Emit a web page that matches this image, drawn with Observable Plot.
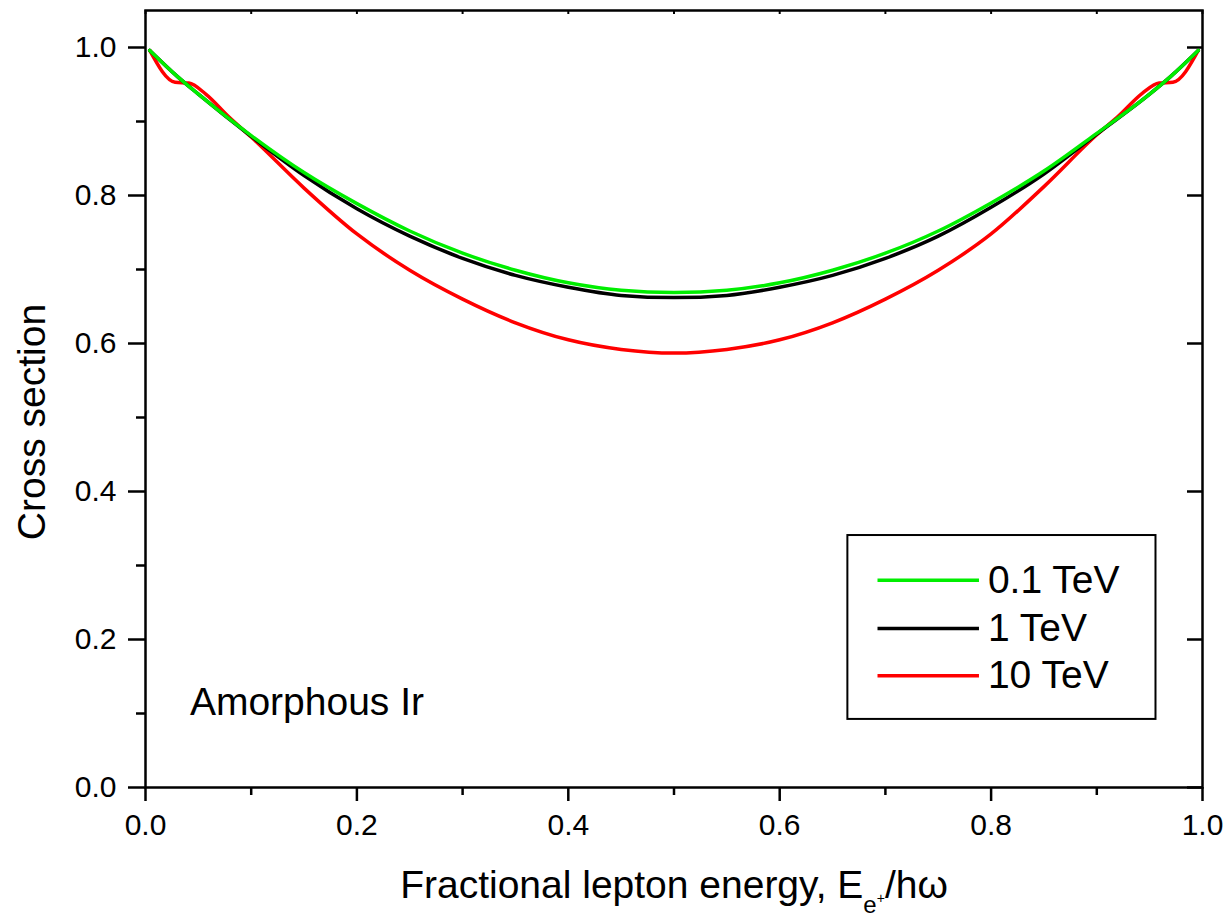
<!DOCTYPE html>
<html>
<head>
<meta charset="utf-8">
<script src="https://cdn.jsdelivr.net/npm/d3@7"></script>
<script src="https://cdn.jsdelivr.net/npm/@observablehq/plot@0.6"></script>
<style>
  html, body { margin: 0; padding: 0; background: #fff; }
  #chart svg { display: block; }
</style>
</head>
<body>
<div id="chart"></div>
<script>
// ---- data ----
const xSmooth = [0.004, 0.03, 0.05, 0.1, 0.15, 0.2, 0.25, 0.3, 0.35, 0.4, 0.45, 0.5,
                 0.55, 0.6, 0.65, 0.7, 0.75, 0.8, 0.85, 0.9, 0.95, 0.97, 0.996];
const y01TeV = [0.996, 0.961, 0.937, 0.881, 0.831, 0.789, 0.752, 0.722, 0.699, 0.682, 0.672, 0.669,
                0.672, 0.682, 0.699, 0.722, 0.752, 0.790, 0.833, 0.884, 0.937, 0.961, 0.996];
const y1TeV  = [0.996, 0.961, 0.937, 0.880, 0.827, 0.782, 0.745, 0.715, 0.692, 0.676, 0.665, 0.662,
                0.665, 0.676, 0.692, 0.715, 0.745, 0.784, 0.829, 0.883, 0.937, 0.961, 0.996];
const xRed   = [0.004, 0.028, 0.041, 0.057, 0.079, 0.1, 0.15, 0.2, 0.25, 0.3, 0.35, 0.4, 0.45, 0.5,
                0.55, 0.6, 0.65, 0.7, 0.75, 0.8, 0.85, 0.9, 0.921, 0.943, 0.959, 0.972, 0.996];
const y10TeV = [0.996, 0.953, 0.952, 0.937, 0.906, 0.879, 0.810, 0.748, 0.699, 0.660, 0.628, 0.605, 0.592, 0.587,
                0.592, 0.605, 0.628, 0.660, 0.699, 0.748, 0.812, 0.882, 0.908, 0.938, 0.952, 0.953, 0.996];

const seriesNames  = ["0.1 TeV", "1 TeV", "10 TeV"];
const seriesColors = ["#00ee00", "#000000", "#ff0000"];

const xMajorTicks = [0, 0.2, 0.4, 0.6, 0.8, 1.0];
const xMinorTicks = [0.1, 0.3, 0.5, 0.7, 0.9];
const yMajorTicks = [0, 0.2, 0.4, 0.6, 0.8, 1.0];
const yMinorTicks = [0.1, 0.3, 0.5, 0.7, 0.9];

const xTitle = "Fractional lepton energy, E";
const xTitleTail = ["e", "+", "/hω"];
const yTitle = "Cross section";
const annotation = "Amorphous Ir";

// ---- layout ----
const W = 1230, H = 920;
const mL = 145, mR = 28, mT = 10, mB = 133;
const frameW = W - mL - mR, frameH = H - mT - mB;
const FONT = "'Liberation Sans', Arial, Helvetica, sans-serif";
const BIG = 39;
const legendBox = {x1: 0.6645, x2: 0.956, y1: 0.092, y2: 0.3405};
const legendRows = [0.280, 0.215, 0.151];
const legendLine = {x1: 0.693, x2: 0.789, text: 0.797};

const toRows = (xs, ys) => xs.map((x, i) => ({x, y: ys[i]}));
const dGreen = toRows(xSmooth, y01TeV);
const dBlack = toRows(xSmooth, y1TeV);
const dRed   = toRows(xRed, y10TeV);
const legend = seriesNames.map((name, i) => ({name, color: seriesColors[i], y: legendRows[i]}));

const chart = Plot.plot({
  width: W, height: H,
  marginLeft: mL, marginRight: mR, marginTop: mT, marginBottom: mB,
  style: {fontFamily: FONT, background: "#fff", color: "#000"},
  x: {domain: [0, 1]},
  y: {domain: [0, 1.05]},
  marks: [
    // axes (outward ticks on left/bottom)
    Plot.axisY(yMajorTicks, {tickSize: 17, tickPadding: 12, fontSize: 30, strokeWidth: 2.5,
                             tickFormat: d3.format(".1f"), label: null}),
    Plot.axisY(yMinorTicks, {tickSize: 9, strokeWidth: 2.5, fill: "none", label: null}),
    Plot.axisX(xMajorTicks, {tickSize: 14, tickPadding: 12, fontSize: 30, strokeWidth: 2.5,
                             tickFormat: d3.format(".1f"), label: null}),
    Plot.axisX(xMinorTicks, {tickSize: 8, strokeWidth: 2.5, fill: "none", label: null}),
    // inward ticks on top/right
    Plot.tickY(yMajorTicks, {y: d => d, insetLeft: frameW - 15, strokeWidth: 2.5}),
    Plot.tickX(xMajorTicks.concat(xMinorTicks), {x: d => d, insetBottom: frameH - 4, strokeWidth: 2}),
    // curves
    Plot.line(dRed,   {x: "x", y: "y", stroke: seriesColors[2], strokeWidth: 3.5, curve: "monotone-x"}),
    Plot.line(dBlack, {x: "x", y: "y", stroke: seriesColors[1], strokeWidth: 3.5, curve: "monotone-x"}),
    Plot.line(dGreen, {x: "x", y: "y", stroke: seriesColors[0], strokeWidth: 3.5, curve: "monotone-x"}),
    // frame
    Plot.frame({stroke: "#000", strokeWidth: 2.5}),
    // legend
    Plot.rect([legendBox], {x1: "x1", x2: "x2", y1: "y1", y2: "y2", fill: "#fff", stroke: "#000", strokeWidth: 2}),
    Plot.ruleY(legend, {y: "y", x1: legendLine.x1, x2: legendLine.x2, stroke: "color", strokeWidth: 3.5}),
    Plot.text(legend, {x: legendLine.text, y: "y", text: "name", textAnchor: "start",
                       lineAnchor: "middle", fontSize: BIG, fill: "#000"}),
    // annotation
    Plot.text([annotation], {x: 0.042, y: 0.115, text: d => d, textAnchor: "start",
                             lineAnchor: "middle", fontSize: BIG, fill: "#000"}),
    // axis titles
    Plot.text([yTitle], {frameAnchor: "left", dx: -113, dy: 23, rotate: -90, text: d => d,
                         textAnchor: "middle", lineAnchor: "middle", fontSize: BIG, fill: "#000"}),
    Plot.text([xTitle], {frameAnchor: "bottom", dy: 98, text: d => d, textAnchor: "middle",
                         lineAnchor: "middle", fontSize: BIG, fill: "#000"})
  ]
});

// subscript / superscript on the x title
const ns = "http://www.w3.org/2000/svg";
const t = Array.from(chart.querySelectorAll("text")).find(el => el.textContent === xTitle);
if (t) {
  t.textContent = "";
  const parts = [
    {s: xTitle},
    {s: xTitleTail[0], dy: 15, size: 24},
    {s: xTitleTail[1], dy: -10, size: 14},
    {s: xTitleTail[2], dy: -5}
  ];
  for (const p of parts) {
    const ts = document.createElementNS(ns, "tspan");
    ts.textContent = p.s;
    if (p.dy) ts.setAttribute("dy", p.dy);
    if (p.size) ts.setAttribute("font-size", p.size);
    t.appendChild(ts);
  }
}

document.getElementById("chart").appendChild(chart);
</script>
</body>
</html>
